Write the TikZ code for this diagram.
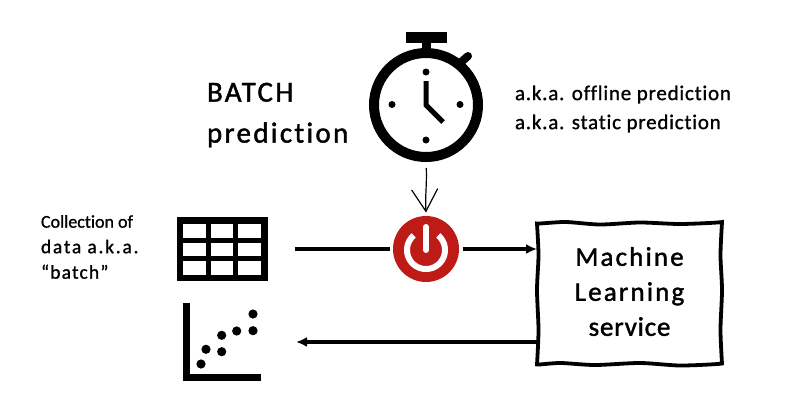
\documentclass[tikz,border=0pt]{standalone}
\usepackage{fontspec}
\setmainfont{Carlito}
\usetikzlibrary{arrows.meta}
\newfontface\handa[LetterSpace=8,FakeBold=1.5,RawFeature={-liga}]{Carlito}
\newfontface\handb[LetterSpace=3.7,FakeBold=1,RawFeature={-liga}]{Carlito}
\newfontface\handc[LetterSpace=0,FakeBold=1,RawFeature={-liga}]{Carlito}
\newfontface\handd[LetterSpace=9,FakeBold=1,RawFeature={-liga}]{Carlito}
\newfontface\hande[LetterSpace=6,FakeBold=1,RawFeature={-liga}]{Carlito}
\newfontface\handf[LetterSpace=3,FakeBold=1.5,RawFeature={-liga}]{Carlito}
\tikzset{
  ink/.style={black,line width=3.4pt},
  flow/.style={ink,-{Latex[length=11pt,width=10pt]}},
  thin arrow/.style={black,line width=1.2pt,-{Straight Barb[length=22pt,width=26pt,line width=1.2pt]}},
  hold/.style={inner sep=0pt,outer sep=0pt,draw=none},
  hand/.style={inner sep=0pt,outer sep=0pt,align=left,text=black,anchor=west},
}
\definecolor{powerred}{HTML}{BE1B16}
\begin{document}
\begin{tikzpicture}[x=1pt,y=-1pt]
\useasboundingbox[fill=white] (0,0) rectangle (801,416);
% stopwatch
\node[hold,circle,minimum size=114pt] (watch) at (426,105) {};
\fill[black] (406,32) rectangle (447,42.5);
\fill[black] (421.5,42) rectangle (431,52);
\draw[black,line width=8pt,line cap=round] (459,64) -- (468,56);
\draw[black,line width=10pt] (watch.center) circle[radius=52pt];
\foreach \px/\py in {426/72,426/140,392/104.5,460/104.5}
  \fill[black] (\px,\py) circle[radius=3.5pt];
\draw[black,line width=5pt,miter limit=4] (426,81) -- (426,105) -- (443,122);
% power button
\node[hold,circle,fill=powerred,minimum size=66pt,outer sep=3.5pt] (power) at (426,249) {};
\draw[white,line width=6pt] plot[domain=-50:230,samples=60,smooth] ({426+19*cos(\x)},{250+19*sin(\x)});
\draw[white,line width=6pt,line cap=round] (426,227) -- (426,250);
% table
\node[hold,minimum width=91pt,minimum height=64pt] (table) at (222.5,249) {};
\fill[black] (177,217) rectangle (268,281);
\foreach \cx/\cw in {183.3/22.7,210.7/22.6,238/23}
  \foreach \cy/\ch in {224/13.7,242.7/13.3,260.7/14.3}
    \fill[white] (\cx,\cy) rectangle ++(\cw,\ch);
% chart
\node[hold,minimum width=78pt,minimum height=78pt] (chart) at (222,342) {};
\fill[black] (183.3,303) rectangle (190,381);
\fill[black] (183.3,374) rectangle (261,381);
\foreach \px/\py in {201/364,206/349.3,221.7/351.7,221.7/335.3,236.7/331,253/330.7,253/314}
  \fill[black] (\px,\py) circle[radius=4.6pt];
% service box
\node[hold,minimum width=185pt,minimum height=141pt] (box) at (629.5,293.5) {};
\draw[black,line width=3.8pt,rounded corners=0.5pt]
  plot[smooth,tension=0.45] coordinates {(537,224) (565,222) (600,224.5) (640,222.5) (680,224) (722,222.5)}
  -- plot[smooth,tension=0.45] coordinates {(722,222.5) (720.5,255) (722,290) (720.5,330) (722,364)}
  -- plot[smooth,tension=0.45] coordinates {(722,364) (680,365.5) (640,363) (595,365) (560,363) (537,365)}
  -- plot[smooth,tension=0.45] coordinates {(537,365) (538.5,330) (537,290) (538.5,255) (537,224)} -- cycle;
% connectors
\draw[ink,shorten <=27pt] (table.east) -- (power.west);
\draw[flow] (power.east) -- (power.east -| box.west);
\draw[flow,shorten >=35pt] (box.west |- chart.east) -- (chart.east);
\draw[thin arrow,shorten <=6pt] (watch.south) .. controls (427,185) and (425,195) .. (power.north);
% labels
\node[hand,font=\fontsize{29}{41}\handa] (title) at (207,115) {BATCH\\prediction};
\node[hand,font=\fontsize{21}{29}\handb] (aka) at (515,109) {a.k.a. offline prediction\\a.k.a. static prediction};
\node[hand,font=\fontsize{19.5}{25.5}\hande] (coll) at (41,247) {{\fontsize{18}{25.5}\handc Collection of}\\{\handd data a.k.a.}\\“batch”};
\node[inner sep=0pt,align=center,text=black,font=\fontsize{27}{35}\handa] (svc) at ([yshift=2pt]box.center) {Machine\\Learning\\{\handf service}};
\end{tikzpicture}
\end{document}
